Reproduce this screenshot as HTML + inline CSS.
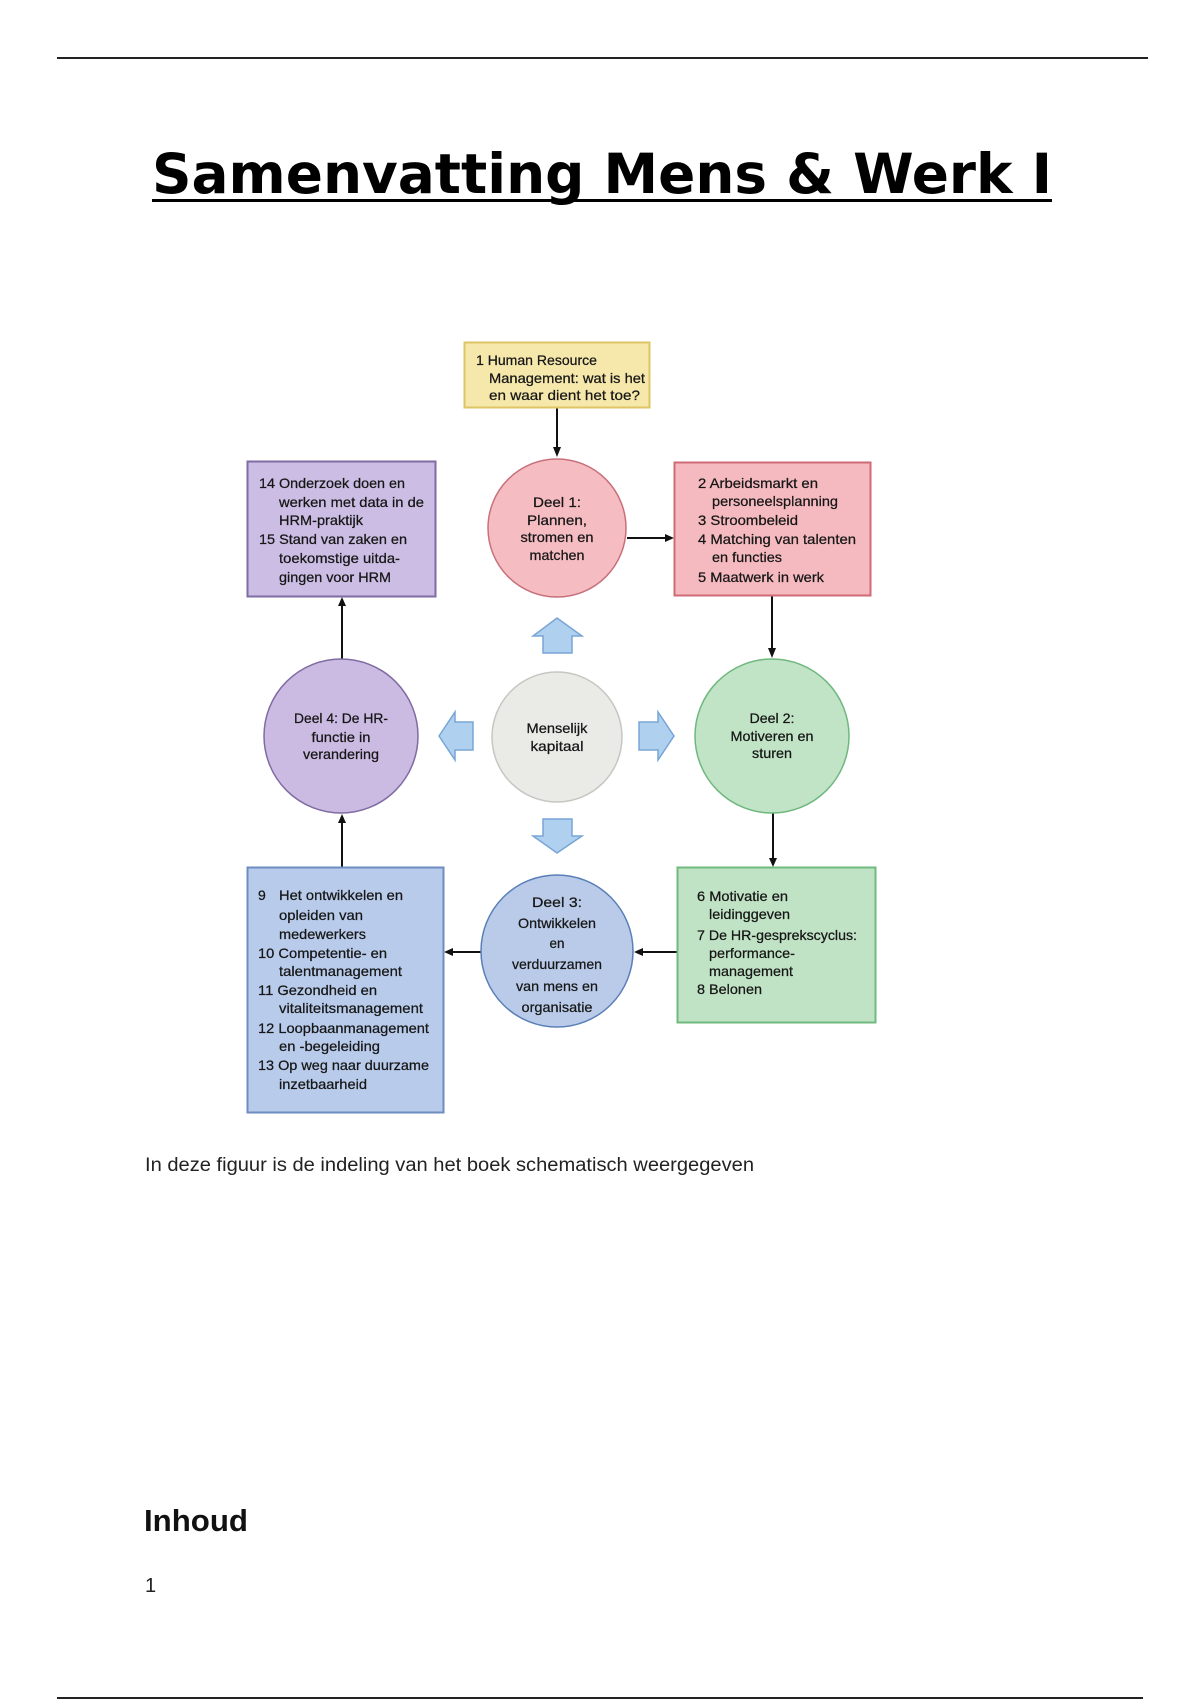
<!DOCTYPE html>
<html>
<head>
<meta charset="utf-8">
<style>
html,body{margin:0;padding:0;background:#fff;}
body{width:1200px;height:1700px;overflow:hidden;position:relative;}
svg{position:absolute;left:0;top:0;}
.d{font-family:"Liberation Sans",sans-serif;font-size:14px;fill:#161616;stroke:#161616;stroke-width:0.25px;}
</style>
</head>
<body>
<svg width="1200" height="1700" viewBox="0 0 1200 1700" xmlns="http://www.w3.org/2000/svg">
  <!-- page rules -->
  <rect x="57" y="57" width="1091" height="2" fill="#222"/>
  <rect x="57" y="1697" width="1086" height="2" fill="#222"/>

  <!-- title -->
  <text x="152" y="193" font-family="DejaVu Sans, sans-serif" font-weight="bold" font-size="55" fill="#000" textLength="900" lengthAdjust="spacingAndGlyphs">Samenvatting Mens &amp; Werk I</text>
  <rect x="152" y="199" width="900" height="3" fill="#000"/>

  <!-- connectors -->
  <g stroke="#111" stroke-width="2" fill="none">
    <line x1="557" y1="407" x2="557" y2="450"/>
    <line x1="627" y1="538" x2="667" y2="538"/>
    <line x1="772" y1="595" x2="772" y2="650"/>
    <line x1="773" y1="812" x2="773" y2="860"/>
    <line x1="677" y1="952" x2="641" y2="952"/>
    <line x1="481" y1="952" x2="451" y2="952"/>
    <line x1="342" y1="867" x2="342" y2="821"/>
    <line x1="342" y1="659" x2="342" y2="604"/>
  </g>
  <g fill="#111">
    <polygon points="553,447 561,447 557,457"/>
    <polygon points="665,534 665,542 674,538"/>
    <polygon points="768,648 776,648 772,658"/>
    <polygon points="769,858 777,858 773,867"/>
    <polygon points="643,948 643,956 634,952"/>
    <polygon points="453,948 453,956 444,952"/>
    <polygon points="338,823 346,823 342,814"/>
    <polygon points="338,606 346,606 342,597"/>
  </g>

  <!-- boxes -->
  <rect x="464.5" y="342.5" width="185" height="65" fill="#f6e8ab" stroke="#dfc465" stroke-width="2"/>
  <rect x="247.5" y="461.5" width="188" height="135" fill="#cbbde3" stroke="#7e6ca3" stroke-width="2"/>
  <rect x="674.5" y="462.5" width="196" height="133" fill="#f5babf" stroke="#d06a77" stroke-width="2"/>
  <rect x="247.5" y="867.5" width="196" height="245" fill="#b8cbeb" stroke="#6d8cc2" stroke-width="2"/>
  <rect x="677.5" y="867.5" width="198" height="155" fill="#c1e3c5" stroke="#6fba7d" stroke-width="2"/>

  <!-- circles -->
  <circle cx="557" cy="528" r="69" fill="#f5bcc2" stroke="#c8707a" stroke-width="1.5"/>
  <circle cx="772" cy="736" r="77" fill="#c1e4c6" stroke="#6fb87d" stroke-width="1.5"/>
  <circle cx="341" cy="736" r="77" fill="#cbbae2" stroke="#7e6ca3" stroke-width="1.5"/>
  <circle cx="557" cy="737" r="65" fill="#eaeae7" stroke="#c6c6c2" stroke-width="1.5"/>
  <circle cx="557" cy="951" r="76" fill="#b9cbe9" stroke="#5a7fb8" stroke-width="1.5"/>

  <!-- block arrows -->
  <g fill="#b0d0f0" stroke="#78a5d5" stroke-width="1.5">
    <polygon points="557,618 582,636 572,636 572,653 543,653 543,636 533,636"/>
    <polygon points="557,853 582,836 572,836 572,819 543,819 543,836 533,836"/>
    <polygon points="439,736 455,712 455,722 473,722 473,750 455,750 455,760"/>
    <polygon points="674,736 658,712 658,722 639,722 639,750 658,750 658,760"/>
  </g>

  <!-- yellow box text -->
  <g class="d">
    <text x="476" y="365" textLength="121" lengthAdjust="spacingAndGlyphs">1 Human Resource</text>
    <text x="489" y="383" textLength="156" lengthAdjust="spacingAndGlyphs">Management: wat is het</text>
    <text x="489" y="400" textLength="151" lengthAdjust="spacingAndGlyphs">en waar dient het toe?</text>
  </g>

  <!-- purple box text -->
  <g class="d">
    <text x="259" y="488" textLength="146" lengthAdjust="spacingAndGlyphs">14 Onderzoek doen en</text>
    <text x="279" y="507" textLength="145" lengthAdjust="spacingAndGlyphs">werken met data in de</text>
    <text x="279" y="525" textLength="84" lengthAdjust="spacingAndGlyphs">HRM-praktijk</text>
    <text x="259" y="544" textLength="148" lengthAdjust="spacingAndGlyphs">15 Stand van zaken en</text>
    <text x="279" y="563" textLength="121" lengthAdjust="spacingAndGlyphs">toekomstige uitda-</text>
    <text x="279" y="582" textLength="112" lengthAdjust="spacingAndGlyphs">gingen voor HRM</text>
  </g>

  <!-- pink box text -->
  <g class="d">
    <text x="698" y="488" textLength="120" lengthAdjust="spacingAndGlyphs">2 Arbeidsmarkt en</text>
    <text x="712" y="506" textLength="126" lengthAdjust="spacingAndGlyphs">personeelsplanning</text>
    <text x="698" y="525" textLength="100" lengthAdjust="spacingAndGlyphs">3 Stroombeleid</text>
    <text x="698" y="544" textLength="158" lengthAdjust="spacingAndGlyphs">4 Matching van talenten</text>
    <text x="712" y="562" textLength="70" lengthAdjust="spacingAndGlyphs">en functies</text>
    <text x="698" y="582" textLength="126" lengthAdjust="spacingAndGlyphs">5 Maatwerk in werk</text>
  </g>

  <!-- circle texts -->
  <g class="d" text-anchor="middle">
    <text x="557" y="507" textLength="48" lengthAdjust="spacingAndGlyphs">Deel 1:</text>
    <text x="557" y="525" textLength="60" lengthAdjust="spacingAndGlyphs">Plannen,</text>
    <text x="557" y="542" textLength="73" lengthAdjust="spacingAndGlyphs">stromen en</text>
    <text x="557" y="560" textLength="55" lengthAdjust="spacingAndGlyphs">matchen</text>

    <text x="772" y="723" textLength="45" lengthAdjust="spacingAndGlyphs">Deel 2:</text>
    <text x="772" y="741" textLength="83" lengthAdjust="spacingAndGlyphs">Motiveren en</text>
    <text x="772" y="758" textLength="40" lengthAdjust="spacingAndGlyphs">sturen</text>

    <text x="341" y="723" textLength="94" lengthAdjust="spacingAndGlyphs">Deel 4: De HR-</text>
    <text x="341" y="742" textLength="59" lengthAdjust="spacingAndGlyphs">functie in</text>
    <text x="341" y="759" textLength="76" lengthAdjust="spacingAndGlyphs">verandering</text>

    <text x="557" y="733" textLength="61" lengthAdjust="spacingAndGlyphs">Menselijk</text>
    <text x="557" y="751" textLength="53" lengthAdjust="spacingAndGlyphs">kapitaal</text>

    <text x="557" y="907" textLength="50" lengthAdjust="spacingAndGlyphs">Deel 3:</text>
    <text x="557" y="928" textLength="78" lengthAdjust="spacingAndGlyphs">Ontwikkelen</text>
    <text x="557" y="948" textLength="15" lengthAdjust="spacingAndGlyphs">en</text>
    <text x="557" y="969" textLength="90" lengthAdjust="spacingAndGlyphs">verduurzamen</text>
    <text x="557" y="991" textLength="82" lengthAdjust="spacingAndGlyphs">van mens en</text>
    <text x="557" y="1012" textLength="71" lengthAdjust="spacingAndGlyphs">organisatie</text>
  </g>

  <!-- blue box text -->
  <g class="d">
    <text x="258" y="900">9</text>
    <text x="279" y="900" textLength="124" lengthAdjust="spacingAndGlyphs">Het ontwikkelen en</text>
    <text x="279" y="920" textLength="84" lengthAdjust="spacingAndGlyphs">opleiden van</text>
    <text x="279" y="939" textLength="87" lengthAdjust="spacingAndGlyphs">medewerkers</text>
    <text x="258" y="958" textLength="129" lengthAdjust="spacingAndGlyphs">10 Competentie- en</text>
    <text x="279" y="976" textLength="123" lengthAdjust="spacingAndGlyphs">talentmanagement</text>
    <text x="258" y="995" textLength="119" lengthAdjust="spacingAndGlyphs">11 Gezondheid en</text>
    <text x="279" y="1013" textLength="144" lengthAdjust="spacingAndGlyphs">vitaliteitsmanagement</text>
    <text x="258" y="1033" textLength="171" lengthAdjust="spacingAndGlyphs">12 Loopbaanmanagement</text>
    <text x="279" y="1051" textLength="101" lengthAdjust="spacingAndGlyphs">en -begeleiding</text>
    <text x="258" y="1070" textLength="171" lengthAdjust="spacingAndGlyphs">13 Op weg naar duurzame</text>
    <text x="279" y="1089" textLength="88" lengthAdjust="spacingAndGlyphs">inzetbaarheid</text>
  </g>

  <!-- green box text -->
  <g class="d">
    <text x="697" y="901" textLength="91" lengthAdjust="spacingAndGlyphs">6 Motivatie en</text>
    <text x="709" y="919" textLength="81" lengthAdjust="spacingAndGlyphs">leidinggeven</text>
    <text x="697" y="940" textLength="160" lengthAdjust="spacingAndGlyphs">7 De HR-gesprekscyclus:</text>
    <text x="709" y="958" textLength="86" lengthAdjust="spacingAndGlyphs">performance-</text>
    <text x="709" y="976" textLength="84" lengthAdjust="spacingAndGlyphs">management</text>
    <text x="697" y="994" textLength="65" lengthAdjust="spacingAndGlyphs">8 Belonen</text>
  </g>

  <!-- body text -->
  <text x="145" y="1171" font-family="Liberation Sans, sans-serif" font-size="19" fill="#222" textLength="609" lengthAdjust="spacingAndGlyphs">In deze figuur is de indeling van het boek schematisch weergegeven</text>
  <text x="144" y="1531" font-family="Liberation Sans, sans-serif" font-weight="bold" font-size="31" fill="#111" textLength="104" lengthAdjust="spacingAndGlyphs">Inhoud</text>
  <text x="145" y="1592" font-family="Liberation Sans, sans-serif" font-size="20" fill="#222">1</text>
</svg>
</body>
</html>
